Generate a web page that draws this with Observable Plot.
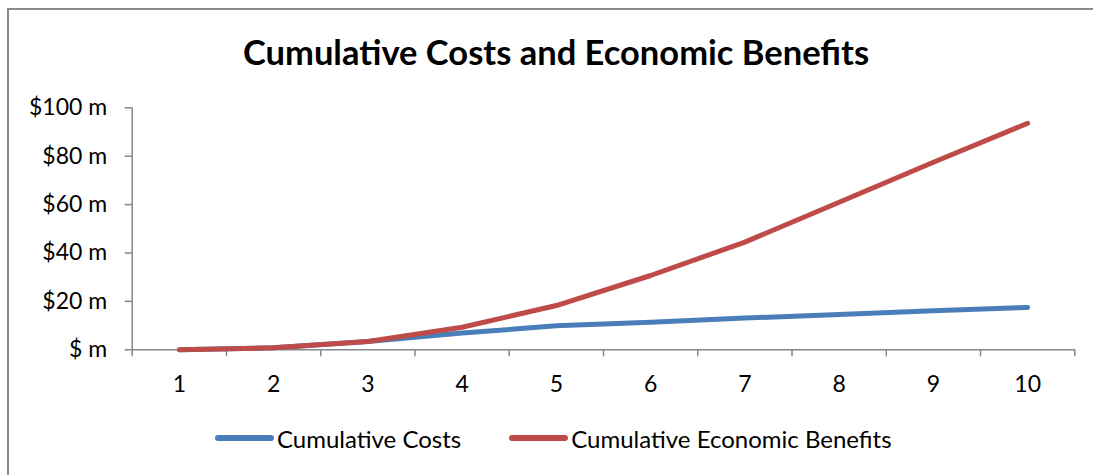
<!DOCTYPE html>
<html>
<head>
<meta charset="utf-8">
<script src="https://cdn.jsdelivr.net/npm/d3@7"></script>
<script src="https://cdn.jsdelivr.net/npm/@observablehq/plot@0.6"></script>
<style>
  html, body { margin: 0; padding: 0; background: #fff; }
  #page { position: relative; width: 1093px; height: 475px; overflow: hidden; font-family: Lato, "Open Sans", sans-serif; }
  #frame { position: absolute; left: 7px; top: 8px; width: 1200px; height: 600px; border: 2px solid #8a8a8a; box-sizing: border-box; }
  #title { position: absolute; left: 0; top: 0; width: 1093px; height: 90px; box-sizing: border-box; padding-left: 19px;
           text-align: center; font-weight: bold; font-size: 34.5px; line-height: 104px; color: #000; }
  #chart { position: absolute; left: 0; top: 90px; }
  #legend { position: absolute; left: 215px; top: 424px; height: 28px; display: flex; align-items: center; font-size: 24px; color: #000; }
  .item { display: flex; align-items: center; margin-right: 48px; }
  .swatch { width: 59px; height: 6px; border-radius: 3px; margin-right: 3px; }
</style>
</head>
<body>
<div id="page">
  <div id="frame"></div>
  <div id="title">Cumulative Costs and Economic Benefits</div>
  <div id="chart"></div>
  <div id="legend"></div>
</div>
<script>
// Years of the programme and the cumulative totals ($ millions)
const years = [1, 2, 3, 4, 5, 6, 7, 8, 9, 10];
const cumulativeCosts = [0, 0.8, 3.4, 6.9, 9.9, 11.4, 13.1, 14.6, 16.1, 17.5];
const cumulativeBenefits = [0, 0.8, 3.4, 9.3, 18.3, 30.7, 44.5, 61.0, 77.5, 93.6];
const yTicks = [0, 20, 40, 60, 80, 100];
const seriesNames = ["Cumulative Costs", "Cumulative Economic Benefits"];
const seriesColors = ["#4a7ebb", "#be4b48"];

const rows = [
  ...years.map((y, i) => ({year: y, value: cumulativeCosts[i], series: seriesNames[0]})),
  ...years.map((y, i) => ({year: y, value: cumulativeBenefits[i], series: seriesNames[1]}))
];

// Category boundaries: tick marks sit between the years
const boundaries = [...years.map(y => y - 0.5), years[years.length - 1] + 0.5];
const axisColor = "#878787";

const chart = Plot.plot({
  width: 1093,
  height: 330,
  marginLeft: 131.7,
  marginRight: 18.7,
  marginTop: 17.3,
  marginBottom: 70.7,
  style: {fontFamily: "Lato, 'Open Sans', sans-serif", fontSize: "23px", color: "#000", background: "transparent", overflow: "visible"},
  x: {domain: [boundaries[0], boundaries[boundaries.length - 1]], axis: null},
  y: {domain: [0, 100], axis: null},
  color: {domain: seriesNames, range: seriesColors},
  marks: [
    Plot.axisY({ticks: yTicks, tickSize: 7, tickPadding: 18, stroke: axisColor, strokeWidth: 1.5,
                tickFormat: d => `$${d === 0 ? "" : d} m`, label: null, fill: "#000"}),
    Plot.axisX({ticks: boundaries, tickSize: 7, stroke: axisColor, strokeWidth: 1.5, tickFormat: () => "", label: null}),
    Plot.axisX({ticks: years, tickSize: 0, tickPadding: 26, tickFormat: d => String(d), label: null, fill: "#000"}),
    Plot.ruleX([boundaries[0]], {stroke: axisColor, strokeWidth: 1.5}),
    Plot.ruleY([0], {stroke: axisColor, strokeWidth: 1.5}),
    Plot.line(rows, {x: "year", y: "value", z: "series", stroke: "series", strokeWidth: 5,
                     strokeLinecap: "round", strokeLinejoin: "round"})
  ]
});
document.getElementById("chart").appendChild(chart);

// Legend below the plot
const legend = document.getElementById("legend");
seriesNames.forEach((name, i) => {
  const item = document.createElement("div");
  item.className = "item";
  const sw = document.createElement("span");
  sw.className = "swatch";
  sw.style.background = seriesColors[i];
  const label = document.createElement("span");
  label.textContent = name;
  item.appendChild(sw);
  item.appendChild(label);
  legend.appendChild(item);
});
</script>
</body>
</html>
